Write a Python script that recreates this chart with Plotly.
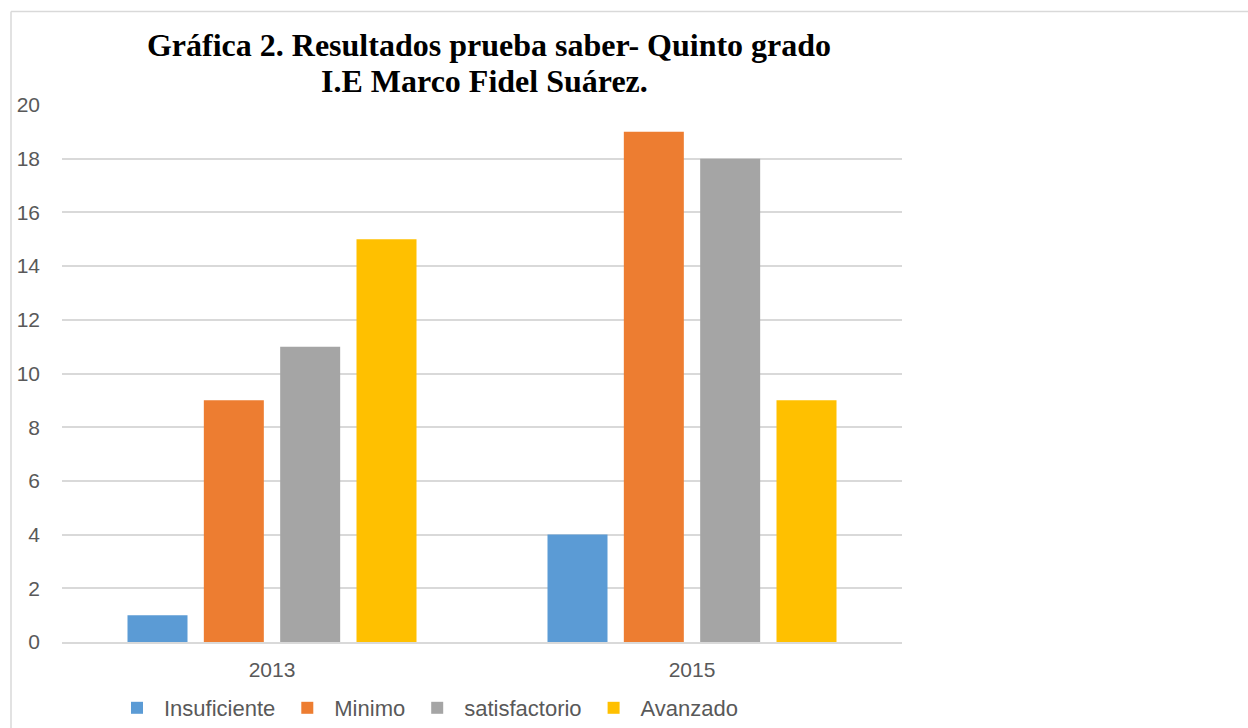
import plotly.graph_objects as go

years = ["2013", "2015"]
series_names = ["Insuficiente", "Minimo", "satisfactorio", "Avanzado"]
insuficiente = [1, 4]
minimo = [9, 19]
satisfactorio = [11, 18]
avanzado = [15, 9]
colors = ["#5B9BD5", "#ED7D31", "#A5A5A5", "#FFC000"]
y_ticks = [0, 2, 4, 6, 8, 10, 12, 14, 16, 18, 20]
title_line1 = "Gráfica 2. Resultados prueba saber- Quinto grado"
title_line2 = "I.E Marco Fidel Suárez."

values = [insuficiente, minimo, satisfactorio, avanzado]

fig = go.Figure()
for name, vals, c in zip(series_names, values, colors):
    fig.add_trace(go.Bar(x=years, y=vals, name=name, marker=dict(color=c, line=dict(width=0))))

W, H = 1248, 728
L, T = 62, 105
PR, PB = 902, 642
R, B = W - PR, H - PB
pw, ph = PR - L, PB - T

def px_x(x):
    return (x - L) / pw

def px_y(y):
    return 1 - (y - T) / ph

title_font = dict(family="Liberation Serif", size=32, color="black", weight="bold")
axis_font = dict(family="Liberation Sans", size=21, color="#595959")

fig.update_layout(
    width=W, height=H,
    margin=dict(l=L, r=R, t=T, b=B, autoexpand=False),
    paper_bgcolor="white", plot_bgcolor="white",
    barmode="group", bargap=0.273, bargroupgap=0.214,
    title=dict(
        text=title_line1,
        x=489 / W, xanchor="center", y=1 - 45 / H, yanchor="middle",
        font=title_font,
    ),
    xaxis=dict(showgrid=False, showline=True, linecolor="#d9d9d9", linewidth=1.5,
               ticks="", tickfont=axis_font, ticklabelstandoff=8),
    yaxis=dict(range=[0, 20], tickvals=y_ticks, showgrid=True, gridcolor="#d9d9d9",
               gridwidth=1.5, zeroline=False, showline=False, ticks="",
               tickfont=axis_font, ticklabelstandoff=21),
    legend=dict(orientation="h", x=px_x(110), xanchor="left", y=px_y(708), yanchor="middle",
                font=dict(family="Liberation Sans", size=22, color="#595959"),
                itemwidth=44, traceorder="normal"),
    showlegend=True,
)

fig.add_annotation(text=title_line2, xref="paper", yref="paper",
                   x=px_x(484), y=px_y(81), xanchor="center", yanchor="middle",
                   showarrow=False, font=title_font)

fig.add_shape(type="line", xref="paper", yref="paper",
              x0=px_x(11), x1=px_x(1260), y0=px_y(11.5), y1=px_y(11.5),
              line=dict(color="#d9d9d9", width=1.5))
fig.add_shape(type="line", xref="paper", yref="paper",
              x0=px_x(11), x1=px_x(11), y0=px_y(11.5), y1=px_y(740),
              line=dict(color="#d9d9d9", width=1.5))

fig.write_html(
    "out.html",
    config={"displayModeBar": False},
    post_script="document.body.style.margin='0';document.body.style.overflow='hidden';",
)
